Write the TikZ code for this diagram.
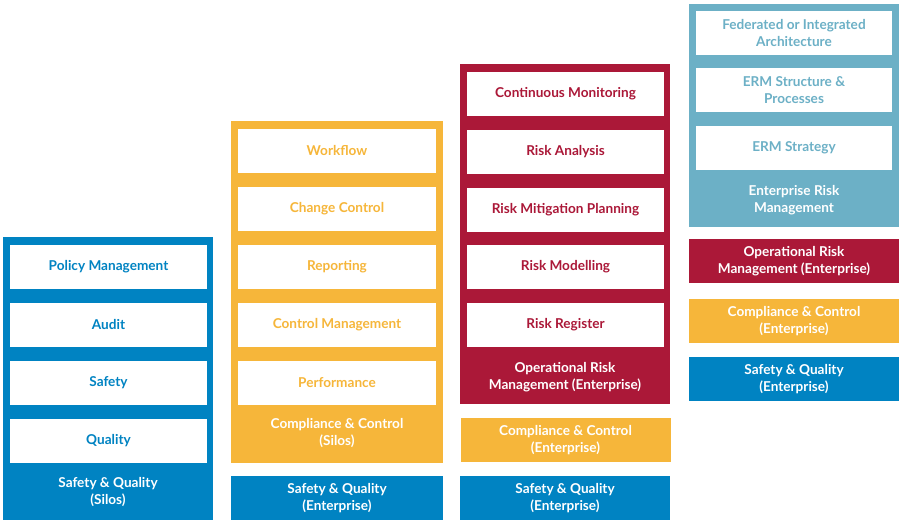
\documentclass[tikz,border=0pt]{standalone}
\usepackage{fontspec}
\setmainfont{Lato}

\definecolor{sqblue}{RGB}{0,131,194}
\definecolor{ccorange}{RGB}{246,182,58}
\definecolor{ormred}{RGB}{171,24,56}
\definecolor{ermteal}{RGB}{108,176,198}

\def\labfont{\bfseries\fontsize{13.6}{17.2}\selectfont}

\tikzset{
  panel/.style={fill=#1, draw=none, inner sep=0pt},
  item/.style={fill=white, text=#1, minimum width=197pt, minimum height=44pt,
    inner sep=0pt, align=center, font=\labfont},
  tag/.style={text=white, align=center, font=\labfont},
  band/.style={fill=#1, text=white, minimum width=210pt, minimum height=44pt,
    inner sep=0pt, align=center, font=\labfont}
}

\begin{document}
\begin{tikzpicture}[x=1pt, y=1pt]

    \useasboundingbox (0,0) rectangle (899,524);

    % Safety & Quality (Silos)
    \node[panel=sqblue, minimum width=210pt, minimum height=283pt] (sqsilos) at (108,145.5) {};
    \node[item=sqblue] (policy)  at (108.5,257) {Policy Management};
    \node[item=sqblue] (audit)   at (108.5,199) {Audit};
    \node[item=sqblue] (safety)  at (108.5,141) {Safety};
    \node[item=sqblue] (quality) at (108.5,83)  {Quality};
    \node[tag] (sqsilostag) at (108,32) {Safety \& Quality\\(Silos)};

    % Compliance & Control (Silos)
    \node[panel=ccorange, minimum width=212pt, minimum height=342pt] (ccsilos) at (337,232) {};
    \node[item=ccorange, minimum width=198pt] (workflow)  at (337,373) {Workflow};
    \node[item=ccorange, minimum width=198pt] (change)    at (337,315) {Change Control};
    \node[item=ccorange, minimum width=198pt] (reporting) at (337,257) {Reporting};
    \node[item=ccorange, minimum width=198pt] (ctrlmgmt)  at (337,199) {Control Management};
    \node[item=ccorange, minimum width=198pt] (perform)   at (337,141) {Performance};
    \node[tag] (ccsilostag) at (337,91) {Compliance \& Control\\(Silos)};
    \node[band=sqblue, minimum width=212pt] (sqent2) at (337,26) {Safety \& Quality\\(Enterprise)};

    % Operational Risk Management (Enterprise)
    \node[panel=ormred, minimum width=210pt, minimum height=340pt] (orment) at (565,290) {};
    \node[item=ormred] (contmon)  at (565.5,430) {Continuous Monitoring};
    \node[item=ormred] (analysis) at (565.5,372) {Risk Analysis};
    \node[item=ormred] (mitigate) at (565.5,314) {Risk Mitigation Planning};
    \node[item=ormred] (modelling) at (565.5,257) {Risk Modelling};
    \node[item=ormred] (register) at (565.5,199) {Risk Register};
    \node[tag] (ormenttag) at (565,147) {Operational Risk\\Management (Enterprise)};
    \node[band=ccorange] (ccent3) at (565.5,84) {Compliance \& Control\\(Enterprise)};
    \node[band=sqblue] (sqent3) at (565,26) {Safety \& Quality\\(Enterprise)};

    % Enterprise Risk Management
    \node[panel=ermteal, minimum width=210pt, minimum height=223pt] (erm) at (794,408.5) {};
    \node[item=ermteal, minimum width=196pt] (federated) at (794,491) {Federated or Integrated\\Architecture};
    \node[item=ermteal, minimum width=196pt] (structure) at (794,434) {ERM Structure \&\\Processes};
    \node[item=ermteal, minimum width=196pt] (strategy)  at (794,376) {ERM Strategy};
    \node[tag] (ermtag) at (794,324) {Enterprise Risk\\Management};
    \node[band=ormred]   (orment4) at (794,263) {Operational Risk\\Management (Enterprise)};
    \node[band=ccorange] (ccent4)  at (794,203) {Compliance \& Control\\(Enterprise)};
    \node[band=sqblue]   (sqent4)  at (794,145) {Safety \& Quality\\(Enterprise)};

\end{tikzpicture}
\end{document}
